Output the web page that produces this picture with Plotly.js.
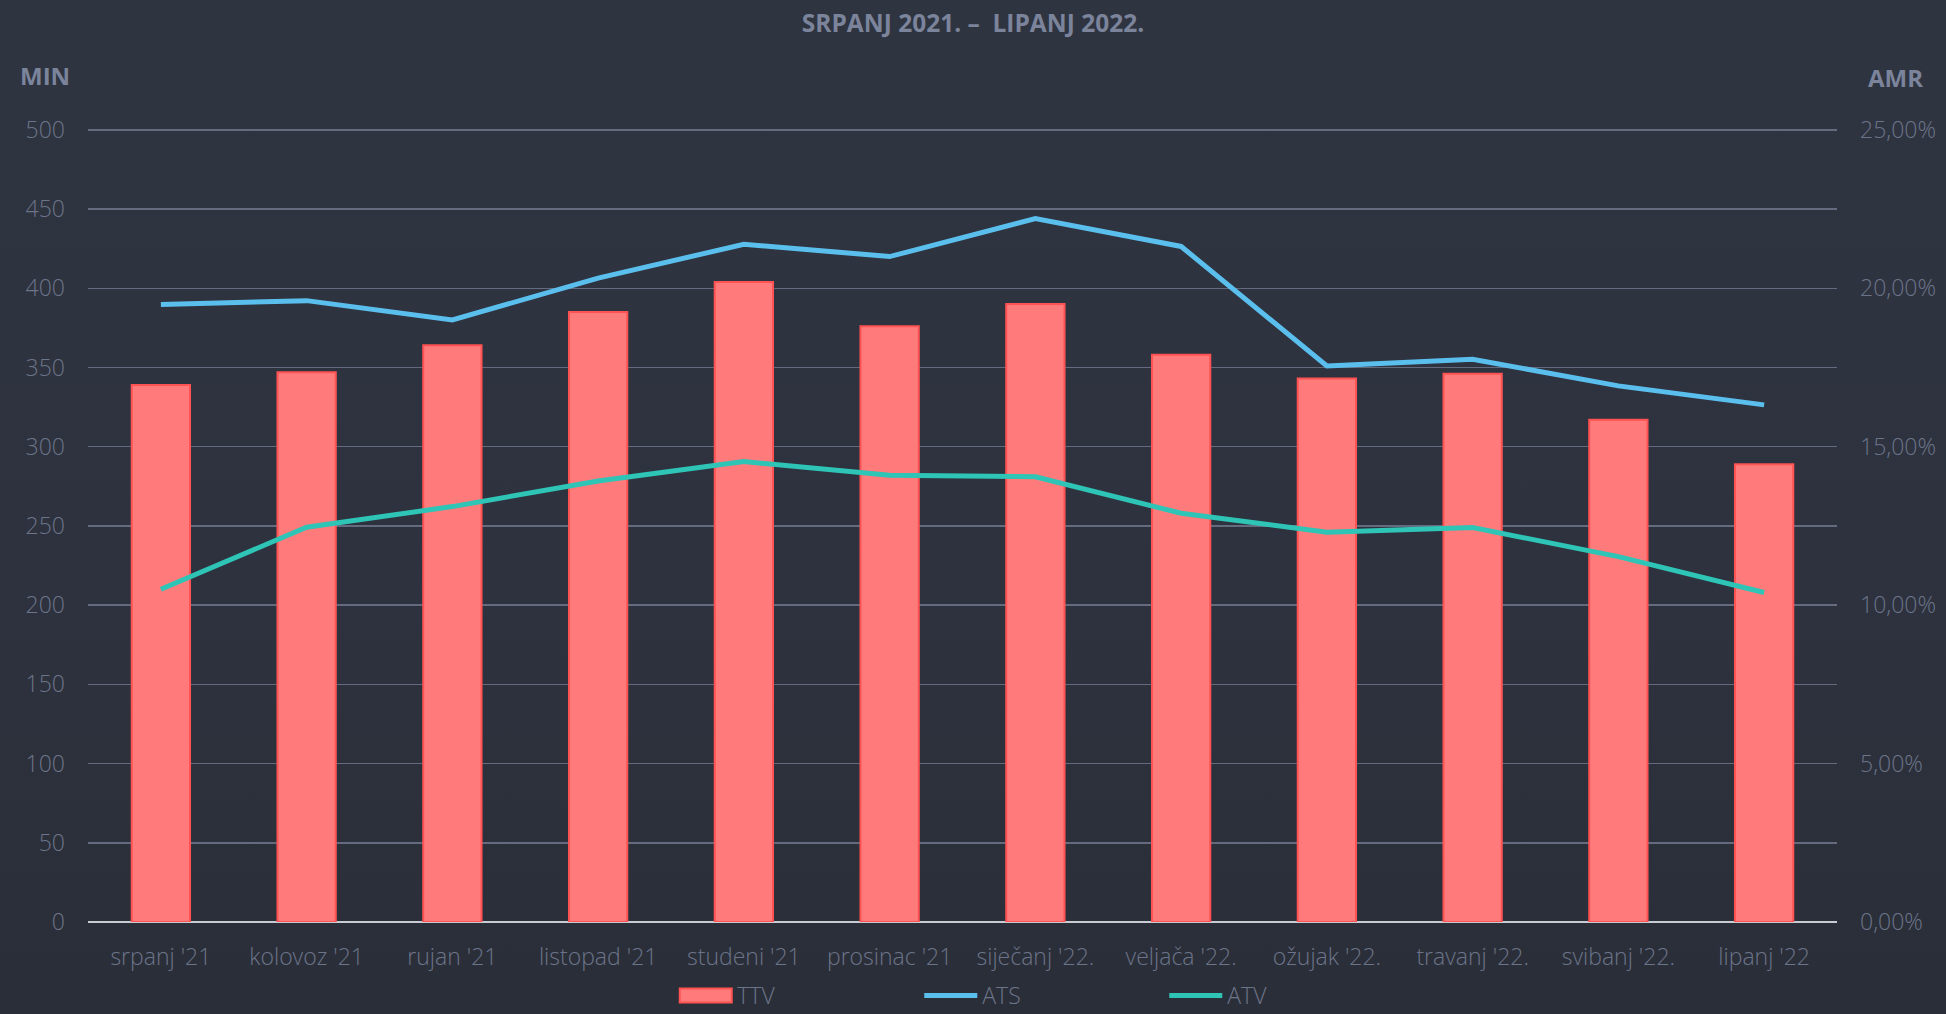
<!DOCTYPE html>
<html>
<head>
<meta charset="utf-8">
<script src="https://cdn.plot.ly/plotly-3.0.1.min.js"></script>
<style>
  html, body { margin: 0; padding: 0; width: 1946px; height: 1014px; overflow: hidden;
    background: linear-gradient(to bottom, #2f3441 0%, #2d323e 60%, #2a2e38 100%); }
  #chart { width: 1946px; height: 1014px; }
</style>
</head>
<body>
<div id="chart"></div>
<script>
const months = ["srpanj '21", "kolovoz '21", "rujan '21", "listopad '21", "studeni '21", "prosinac '21",
  "siječanj '22.", "veljača '22.", "ožujak '22.", "travanj '22.", "svibanj '22.", "lipanj '22"];
const ttv = [339, 347, 364, 385, 404, 376, 390, 358, 343, 346, 317, 289];
const ats = [0.1949, 0.1961, 0.1900, 0.2032, 0.2139, 0.2100, 0.2220, 0.2132, 0.1755, 0.1776, 0.1692, 0.1632];
const atv = [0.1050, 0.1246, 0.1311, 0.1392, 0.1453, 0.1410, 0.1405, 0.1290, 0.1230, 0.1245, 0.1153, 0.1040];
const minTicks = [0, 50, 100, 150, 200, 250, 300, 350, 400, 450, 500];
const amrTicks = [0, 0.05, 0.10, 0.15, 0.20, 0.25];

const labelColor = '#6c7489';
const headColor = '#7b849b';
const lightFont = {family: 'Open Sans', size: 23, color: labelColor, weight: 300};

const traces = [
  {type: 'bar', name: 'TTV', x: months, y: ttv, yaxis: 'y',
   marker: {color: '#ff7b7b', line: {color: '#ff5252', width: 2}}},
  {type: 'scatter', mode: 'lines', name: 'ATS', x: months, y: ats, yaxis: 'y2',
   line: {color: '#5bbfed', width: 5}},
  {type: 'scatter', mode: 'lines', name: 'ATV', x: months, y: atv, yaxis: 'y2',
   line: {color: '#2ec4b6', width: 5}}
];

const layout = {
  width: 1946, height: 1014,
  paper_bgcolor: 'rgba(0,0,0,0)', plot_bgcolor: 'rgba(0,0,0,0)',
  separators: ',.',
  margin: {l: 88, r: 109, t: 114.16, b: 92, autoexpand: false},
  font: lightFont,
  bargap: 0.6,
  title: {text: 'SRPANJ 2021. –  LIPANJ 2022.', x: 0.5, xref: 'container', xanchor: 'center',
          y: 0.977, yref: 'container', yanchor: 'middle',
          font: {family: 'Open Sans', size: 24.5, color: headColor, weight: 'bold'}},
  xaxis: {type: 'category', showgrid: false, ticks: '', tickfont: lightFont,
          ticklabelstandoff: 19, showline: false, zeroline: false},
  yaxis: {range: [0, 510], tickvals: minTicks,
          showgrid: true, gridcolor: '#646b7e', gridwidth: 1.5,
          zeroline: true, zerolinecolor: '#c9ccd3', zerolinewidth: 2,
          ticks: '', tickfont: lightFont, ticklabelstandoff: 22},
  yaxis2: {overlaying: 'y', side: 'right', range: [0, 0.255], tickvals: amrTicks,
           tickformat: '.2%', showgrid: false, zeroline: false, ticks: '',
           tickfont: lightFont, ticklabelstandoff: 22},
  showlegend: true,
  legend: {orientation: 'h', x: 0.3352, xanchor: 'left', y: -0.1139, yanchor: 'bottom',
           font: lightFont, itemwidth: 53, entrywidth: 177, entrywidthmode: 'pixels',
           bgcolor: 'rgba(0,0,0,0)', itemclick: false, itemdoubleclick: false},
  annotations: [
    {text: 'MIN', xref: 'paper', yref: 'paper', x: -0.040, y: 1.0472, xanchor: 'left', yanchor: 'middle',
     showarrow: false, font: {family: 'Open Sans', size: 24, color: headColor, weight: 'bold'}},
    {text: 'AMR', xref: 'paper', yref: 'paper', x: 1.0166, y: 1.0448, xanchor: 'left', yanchor: 'middle',
     showarrow: false, font: {family: 'Open Sans', size: 24, color: headColor, weight: 'bold'}}
  ]
};

function tweakLegend() {
  const legend = document.querySelector('#chart g.legend');
  if (!legend) return;
  // wide swatch for the bar entry, as in the reference
  const first = legend.querySelector('.traces');
  if (first) {
    first.querySelectorAll('.legendpoints path').forEach(function (p) {
      p.setAttribute('d', 'M26,7H-26V-7H26Z');
    });
  }
  // nudge the legend slightly lower, keeping its text inside the picture
  const tr = legend.getAttribute('transform') || '';
  const m = tr.match(/translate\(\s*([-\d.]+)[ ,]+([-\d.]+)\s*\)/);
  if (m) {
    legend.setAttribute('transform', 'translate(' + m[1] + ',' + (parseFloat(m[2]) + 3) + ')');
  }
}

Plotly.newPlot('chart', traces, layout, {staticPlot: true, displayModeBar: false}).then(function () {
  tweakLegend();
});
</script>
</body>
</html>
